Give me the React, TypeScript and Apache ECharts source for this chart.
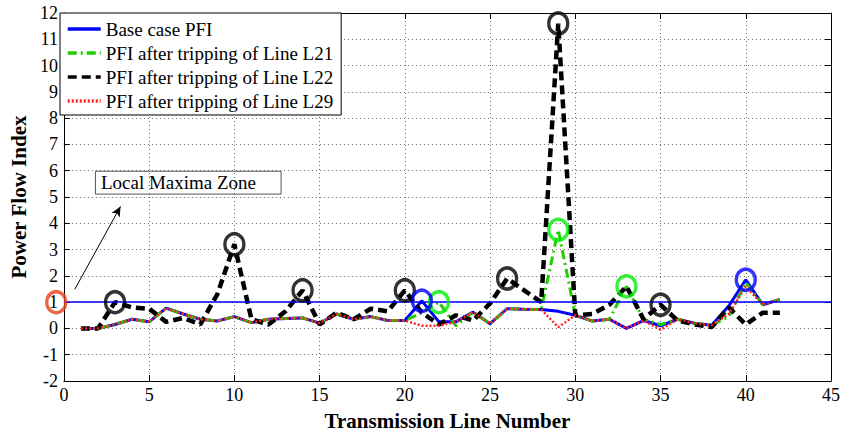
import React, { useEffect, useRef } from "react";
import * as echarts from "echarts";

const lineNumbers = Array.from({ length: 42 }, (_, i) => i + 1);

const basePFI = [0, 0, 0.15, 0.35, 0.25, 0.77, 0.55, 0.35, 0.28, 0.45, 0.22, 0.35, 0.38, 0.4, 0.2, 0.55, 0.35, 0.45, 0.3, 0.3, 1.05, 0.25, 0.25, 0.62, 0.18, 0.75, 0.73, 0.72, 0.65, 0.5, 0.28, 0.35, 0.0, 0.3, 0.1, 0.35, 0.2, 0.12, 0.85, 1.85, 0.9, 1.1];
const pfiL21 = [0, 0, 0.15, 0.35, 0.25, 0.77, 0.55, 0.35, 0.28, 0.45, 0.22, 0.35, 0.38, 0.4, 0.2, 0.55, 0.35, 0.45, 0.3, 0.3, 0.6, 1.0, 0.1, 0.62, 0.18, 0.75, 0.73, 0.72, 3.75, 0.5, 0.28, 0.35, 1.6, 0.35, 0.15, 0.35, 0.2, 0.12, 0.45, 1.75, 0.9, 1.1];
const pfiL22 = [0, 0, 1.0, 0.8, 0.75, 0.25, 0.4, 0.15, 1.3, 3.2, 0.35, 0.15, 0.65, 1.45, 0.15, 0.6, 0.35, 0.75, 0.65, 1.45, 0.6, 0.15, 0.5, 0.3, 0.95, 1.9, 1.45, 1.0, 11.6, 0.5, 0.55, 0.9, 1.6, 0.35, 0.9, 0.3, 0.15, 0.05, 0.8, 0.15, 0.6, 0.6];
const pfiL29 = [0, 0, 0.15, 0.35, 0.25, 0.77, 0.55, 0.35, 0.28, 0.45, 0.22, 0.35, 0.38, 0.4, 0.2, 0.55, 0.35, 0.45, 0.3, 0.3, 0.1, 0.1, 0.25, 0.62, 0.18, 0.75, 0.73, 0.72, 0.05, 0.5, 0.28, 0.35, 0.0, 0.3, -0.05, 0.35, 0.2, 0.12, 0.55, 1.6, 0.9, 1.1];

const blackCircles = [[3, 1.0], [10, 3.2], [14, 1.45], [20, 1.45], [26, 1.9], [29, 11.6], [35, 0.9]];
const greenCircles = [[22, 1.0], [29, 3.75], [33, 1.6]];
const blueCircles = [[21, 1.05], [40, 1.85]];
const redCircles = [[-0.45, 1]];

const thresholdValue = 1;
const xTicks = { min: 0, max: 45, interval: 5 };
const yTicks = { min: -2, max: 12, interval: 1 };

const seriesNames = [
  "Base case PFI",
  "PFI after tripping of Line L21",
  "PFI after tripping of Line L22",
  "PFI after tripping of Line L29",
];

const FONT = "'Liberation Serif', 'Times New Roman', serif";

const pair = (vals: number[]) => vals.map((v, i) => [lineNumbers[i], v]);

export default function App() {
  const ref = useRef<HTMLDivElement>(null);
  useEffect(() => {
    if (!ref.current) return;
    const chart = echarts.init(ref.current, null, { renderer: "svg" });
    const circle = (data: number[][], color: string) => ({
      type: "scatter",
      data,
      symbol: "circle",
      symbolSize: [19, 21],
      clip: false,
      z: 5,
      itemStyle: { color: "rgba(0,0,0,0)", borderColor: color, borderWidth: 3.5 },
    });
    const axisCommon = {
      axisLine: { show: true, onZero: false, lineStyle: { color: "#000", width: 1 } },
      axisTick: { show: true, inside: true, length: 6, lineStyle: { color: "#000" } },
    };
    chart.setOption({
      animation: false,
      backgroundColor: "#fff",
      grid: { left: 59, right: 13, top: 13, bottom: 51 },
      legend: {
        data: seriesNames,
        orient: "vertical",
        left: 60,
        top: 13,
        padding: [6, 8, 4, 6],
        itemGap: 4,
        itemWidth: 33,
        itemHeight: 12,
        backgroundColor: "#fff",
        borderColor: "#000",
        borderWidth: 1,
        borderRadius: 0,
        itemStyle: { opacity: 0 },
        lineStyle: { width: 3.5 },
        textStyle: { fontFamily: FONT, fontSize: 19, color: "#000", lineHeight: 20 },
      },
      xAxis: [
        {
          type: "value",
          ...xTicks,
          position: "bottom",
          ...axisCommon,
          axisLabel: { fontFamily: FONT, fontSize: 18, color: "#000", margin: 5 },
          splitLine: { show: true, lineStyle: { color: "#666", type: [1, 3], width: 1 } },
          name: "Transmission Line Number",
          nameLocation: "middle",
          nameGap: 29,
          nameTextStyle: { fontFamily: FONT, fontSize: 21, fontWeight: "bold", color: "#000" },
        },
        {
          type: "value",
          ...xTicks,
          position: "top",
          ...axisCommon,
          axisLabel: { show: false },
          splitLine: { show: false },
        },
      ],
      yAxis: [
        {
          type: "value",
          ...yTicks,
          position: "left",
          ...axisCommon,
          axisLabel: { fontFamily: FONT, fontSize: 18, color: "#000", margin: 6 },
          splitLine: { show: true, lineStyle: { color: "#666", type: [1, 3], width: 1 } },
          name: "Power Flow Index",
          nameLocation: "middle",
          nameGap: 30,
          nameTextStyle: { fontFamily: FONT, fontSize: 21, fontWeight: "bold", color: "#000" },
        },
        {
          type: "value",
          ...yTicks,
          position: "right",
          ...axisCommon,
          axisLabel: { show: false },
          splitLine: { show: false },
        },
      ],
      series: [
        {
          name: seriesNames[0],
          type: "line",
          data: pair(basePFI),
          symbol: "none",
          lineStyle: { color: "#0000ff", width: 3 },
          itemStyle: { color: "#0000ff" },
          markLine: {
            silent: true,
            symbol: "none",
            label: { show: false },
            lineStyle: { color: "#0000ff", width: 1.5, type: "solid" },
            data: [{ yAxis: thresholdValue }],
          },
        },
        {
          name: seriesNames[1],
          type: "line",
          data: pair(pfiL21),
          symbol: "none",
          lineStyle: { color: "#22cc00", width: 3, type: [9, 4, 2, 4] },
          itemStyle: { color: "#22cc00" },
        },
        {
          name: seriesNames[2],
          type: "line",
          data: pair(pfiL22),
          symbol: "none",
          lineStyle: { color: "#000", width: 4.5, type: [9, 5] },
          itemStyle: { color: "#000" },
        },
        {
          name: seriesNames[3],
          type: "line",
          data: pair(pfiL29),
          symbol: "none",
          lineStyle: { color: "#ff2020", width: 2.5, type: [2, 2] },
          itemStyle: { color: "#ff2020" },
        },
        circle(blackCircles, "#000"),
        circle(greenCircles, "#00ee00"),
        circle(blueCircles, "#0000ff"),
        circle(redCircles, "#e8401c"),
        {
          type: "line",
          data: [],
          markLine: {
            silent: true,
            symbol: ["none", "arrow"],
            symbolSize: [7, 10],
            label: { show: false },
            lineStyle: { color: "#000", width: 1, type: "solid" },
            data: [[{ coord: [0.64, 1.49] }, { coord: [3.32, 4.64] }]],
          },
          markArea: {
            silent: true,
            itemStyle: { color: "rgba(0,0,0,0)", borderColor: "#555", borderWidth: 1 },
            label: {
              show: true,
              position: "insideLeft",
              distance: 6,
              fontFamily: FONT,
              fontSize: 19,
              color: "#000",
            },
            data: [[{ name: "Local Maxima Zone", coord: [1.85, 5.98] }, { coord: [12.74, 5.11] }]],
          },
        },
      ],
    });
    return () => chart.dispose();
  }, []);
  return <div ref={ref} style={{ width: 844, height: 436, position: "absolute", left: 0, top: 0 }} />;
}
